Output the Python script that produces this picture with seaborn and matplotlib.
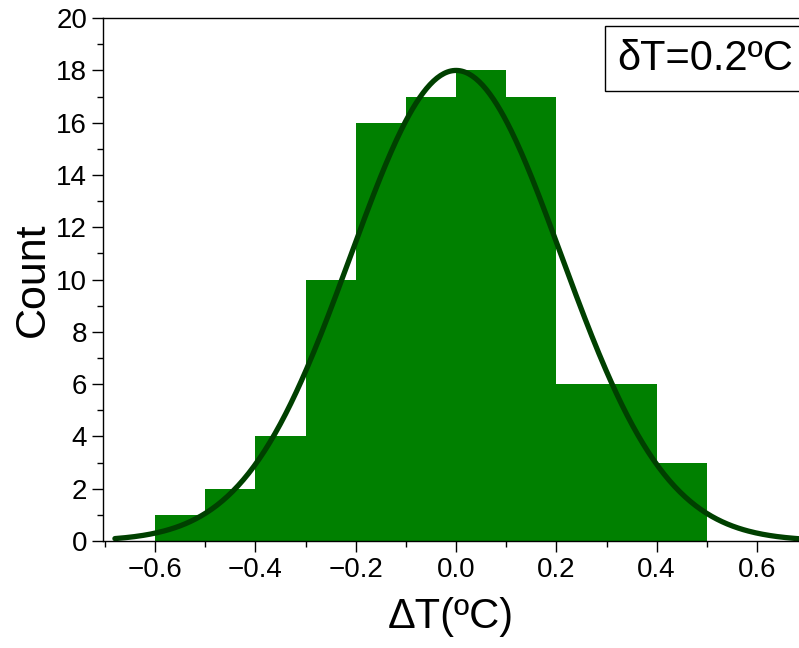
import numpy as np
import pandas as pd
import matplotlib
matplotlib.use("Agg")
import matplotlib.pyplot as plt
import seaborn as sns
from matplotlib.ticker import MultipleLocator

# histogram data (bin width 0.1)
bin_edges = [-0.6, -0.5, -0.4, -0.3, -0.2, -0.1, 0.0, 0.1, 0.2, 0.3, 0.4, 0.5]
counts = [1, 2, 4, 10, 16, 17, 18, 17, 6, 6, 3]

# gaussian fit parameters
fit_amp = 18.0
fit_center = 0.0
fit_sigma = 0.21

sns.set_style("ticks")
plt.rcParams['font.family'] = ['Liberation Sans', 'DejaVu Sans']
plt.rcParams.update({'text.color': 'black', 'axes.labelcolor': 'black',
                     'xtick.color': 'black', 'ytick.color': 'black'})

centers = [(a + b) / 2 for a, b in zip(bin_edges[:-1], bin_edges[1:])]
df = pd.DataFrame({'dT': centers, 'n': counts})

fx = np.linspace(-0.68, 0.72, 400)
fit = pd.DataFrame({'x': fx, 'y': fit_amp * np.exp(-(fx - fit_center) ** 2 / (2 * fit_sigma ** 2))})

fig = plt.figure(figsize=(7.99, 6.48), dpi=100)
ax = fig.add_axes([0.129, 0.165, 0.871, 0.807])

sns.histplot(data=df, x='dT', weights='n', bins=bin_edges, color='#008000',
             alpha=1, edgecolor='none', linewidth=0, ax=ax)
sns.lineplot(data=fit, x='x', y='y', color='#004000', linewidth=3.8, ax=ax)

ax.set_xlim(-0.7036, 0.6837)
ax.set_ylim(0, 20)
ax.xaxis.set_major_locator(MultipleLocator(0.2))
ax.xaxis.set_minor_locator(MultipleLocator(0.1))
ax.yaxis.set_major_locator(MultipleLocator(2))
ax.yaxis.set_minor_locator(MultipleLocator(1))
ax.tick_params(which='major', direction='out', length=8, width=1, labelsize=20)
ax.tick_params(which='minor', direction='out', length=4, width=1)
ax.xaxis.set_major_formatter(matplotlib.ticker.FuncFormatter(lambda v, p: f"{v:.1f}".replace('-', '\u2212')))

for s in ['left', 'bottom', 'top']:
    ax.spines[s].set_linewidth(1)
    ax.spines[s].set_color('black')
ax.spines['right'].set_visible(False)

ax.set_xlabel('ΔT(ºC)', fontsize=30, labelpad=10)
ax.set_ylabel('Count', fontsize=31, labelpad=2)

ax.text(0.992, 0.922, 'δT=0.2ºC', transform=ax.transAxes, fontsize=30,
        ha='right', va='center',
        bbox=dict(boxstyle='square,pad=0.3', facecolor='white', edgecolor='black', linewidth=1))

fig.savefig('out.png', dpi=100)
